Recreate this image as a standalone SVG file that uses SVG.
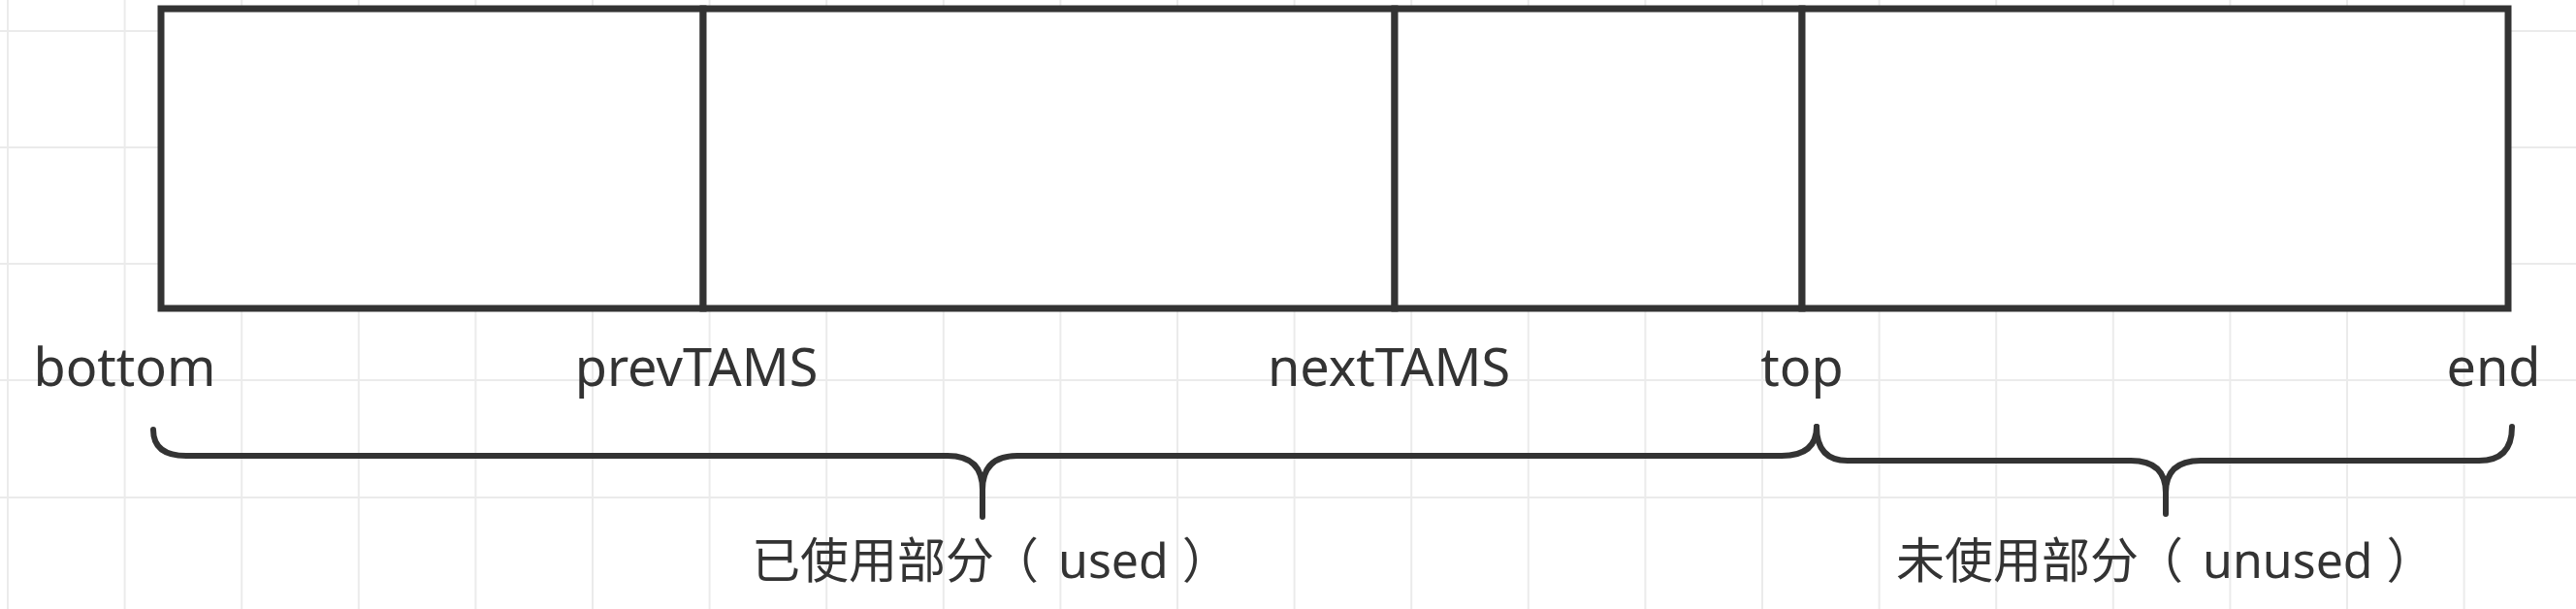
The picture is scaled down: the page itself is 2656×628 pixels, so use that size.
<svg xmlns="http://www.w3.org/2000/svg" width="2656" height="628" viewBox="0 0 2656 628">
  <style>
    .grid line { stroke: #ebebeb; stroke-width: 2; }
    .seg { fill: #ffffff; stroke: #333333; stroke-width: 7; }
    .lbl { font-family: "Noto Sans", "Noto Sans CJK SC", sans-serif; font-size: 54px; fill: #333333; text-anchor: middle; }
    .cjk { font-family: "Noto Sans", "Noto Sans CJK SC", sans-serif; font-size: 50px; fill: #333333; }
    .brace { fill: none; stroke: #333333; stroke-width: 6; stroke-linecap: round; stroke-linejoin: round; }
  </style>
  <rect x="0" y="0" width="2656" height="628" fill="#ffffff"/>
  <g class="grid" id="grid">
    <line x1="0" y1="32" x2="2656" y2="32"/>
    <line x1="0" y1="152" x2="2656" y2="152"/>
    <line x1="0" y1="272" x2="2656" y2="272"/>
    <line x1="0" y1="392" x2="2656" y2="392"/>
    <line x1="0" y1="513" x2="2656" y2="513"/>
    <line x1="8" y1="0" x2="8" y2="628"/>
    <line x1="128.6" y1="0" x2="128.6" y2="628"/>
    <line x1="249.2" y1="0" x2="249.2" y2="628"/>
    <line x1="369.8" y1="0" x2="369.8" y2="628"/>
    <line x1="490.4" y1="0" x2="490.4" y2="628"/>
    <line x1="611" y1="0" x2="611" y2="628"/>
    <line x1="731.6" y1="0" x2="731.6" y2="628"/>
    <line x1="852.2" y1="0" x2="852.2" y2="628"/>
    <line x1="972.8" y1="0" x2="972.8" y2="628"/>
    <line x1="1093.4" y1="0" x2="1093.4" y2="628"/>
    <line x1="1214" y1="0" x2="1214" y2="628"/>
    <line x1="1334.6" y1="0" x2="1334.6" y2="628"/>
    <line x1="1455.2" y1="0" x2="1455.2" y2="628"/>
    <line x1="1575.8" y1="0" x2="1575.8" y2="628"/>
    <line x1="1696.4" y1="0" x2="1696.4" y2="628"/>
    <line x1="1817" y1="0" x2="1817" y2="628"/>
    <line x1="1937.6" y1="0" x2="1937.6" y2="628"/>
    <line x1="2058.2" y1="0" x2="2058.2" y2="628"/>
    <line x1="2178.8" y1="0" x2="2178.8" y2="628"/>
    <line x1="2299.4" y1="0" x2="2299.4" y2="628"/>
    <line x1="2420" y1="0" x2="2420" y2="628"/>
    <line x1="2540.6" y1="0" x2="2540.6" y2="628"/>
  </g>
  <g id="seg-prev"><rect class="seg" x="166" y="9" width="559" height="309"/></g>
  <g id="seg-next"><rect class="seg" x="725" y="9" width="713" height="309"/></g>
  <g id="seg-top"><rect class="seg" x="1438" y="9" width="420" height="309"/></g>
  <g id="seg-end"><rect class="seg" x="1858" y="9" width="728" height="309"/></g>
  <g id="label-bottom"><text class="lbl" x="128.5" y="398">bottom</text></g>
  <g id="label-prevTAMS"><text class="lbl" x="718" y="398">prevTAMS</text></g>
  <g id="label-nextTAMS"><text class="lbl" x="1432" y="398">nextTAMS</text></g>
  <g id="label-top"><text class="lbl" x="1858" y="398">top</text></g>
  <g id="label-end"><text class="lbl" x="2571" y="398">end</text></g>
  <g id="connectors">
    <path class="brace" d="M158,443 Q158,470 192,470 L977,470 Q1013,470 1013,505 L1013,533 M1013,505 Q1013,470 1049,470 L1837,470 Q1873,470 1873,440"/>
    <path class="brace" d="M1873,440 Q1873,475 1905,475 L2197,475 Q2233,475 2233,508 L2233,530 M2233,508 Q2233,475 2269,475 L2556,475 Q2590,475 2590,440"/>
  </g>
  <g id="label-used"><text class="cjk" x="775" y="596" lang="zh-CN">已使用部分<tspan dx="-4">（</tspan><tspan dx="20">used</tspan><tspan dx="14">）</tspan></text></g>
  <g id="label-unused"><text class="cjk" x="1955" y="596" lang="zh-CN">未使用部分<tspan dx="-4">（</tspan><tspan dx="20">unused</tspan><tspan dx="14">）</tspan></text></g>
</svg>
